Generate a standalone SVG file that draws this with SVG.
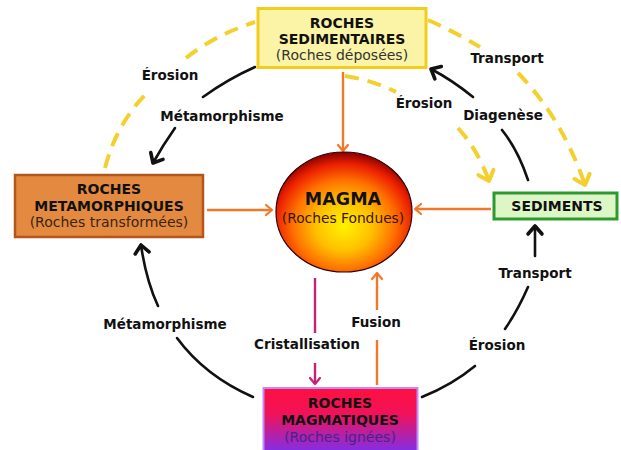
<svg xmlns="http://www.w3.org/2000/svg" width="621" height="450" viewBox="0 0 621 450">
<defs>
<style>
.t{font-family:"DejaVu Sans","Verdana",sans-serif;fill:#111;text-anchor:middle}
.b{font-weight:bold}
.lbl{font-family:"DejaVu Sans","Verdana",sans-serif;font-weight:bold;font-size:13.5px;fill:#111;text-anchor:middle}
.blk{fill:none;stroke:#111;stroke-width:2.6;stroke-linecap:round}
.yel{fill:none;stroke:#F4D02E;stroke-width:4;stroke-dasharray:14 9}
.org{fill:none;stroke:#F07828;stroke-width:2.4}
.mag{fill:none;stroke:#C8207A;stroke-width:2.4}
</style>
<marker id="mb" viewBox="-12 -10 16 20" markerWidth="16" markerHeight="20" refX="0" refY="0" orient="auto" markerUnits="userSpaceOnUse">
<path d="M-8,-7 L0,0 L-8,7" fill="none" stroke="#111" stroke-width="3.6" stroke-linecap="round" stroke-linejoin="round"/>
</marker>
<marker id="my" viewBox="-14 -12 18 24" markerWidth="18" markerHeight="24" refX="0" refY="0" orient="auto" markerUnits="userSpaceOnUse">
<path d="M-9,-8 L0,0 L-9,8" fill="none" stroke="#F4D02E" stroke-width="4" stroke-linecap="round" stroke-linejoin="round"/>
</marker>
<marker id="mo" viewBox="-10 -8 12 16" markerWidth="12" markerHeight="16" refX="0" refY="0" orient="auto" markerUnits="userSpaceOnUse">
<path d="M-6,-5 L0,0 L-6,5" fill="none" stroke="#F07828" stroke-width="2.2" stroke-linecap="round" stroke-linejoin="round"/>
</marker>
<marker id="mm" viewBox="-10 -8 12 16" markerWidth="12" markerHeight="16" refX="0" refY="0" orient="auto" markerUnits="userSpaceOnUse">
<path d="M-6,-5 L0,0 L-6,5" fill="none" stroke="#C8207A" stroke-width="2.2" stroke-linecap="round" stroke-linejoin="round"/>
</marker>
<radialGradient id="gMagma" cx="0.5" cy="0.6" r="0.6" fx="0.5" fy="0.62">
<stop offset="0" stop-color="#FFF200"/>
<stop offset="0.35" stop-color="#FFC000"/>
<stop offset="0.62" stop-color="#FF7200"/>
<stop offset="0.84" stop-color="#EC2000"/>
<stop offset="1" stop-color="#860000"/>
</radialGradient>
<linearGradient id="gIgn" x1="0" y1="0" x2="0" y2="1">
<stop offset="0" stop-color="#FF1040"/>
<stop offset="0.4" stop-color="#F0125A"/>
<stop offset="1" stop-color="#7A30F0"/>
</linearGradient>
</defs>
<rect width="621" height="450" fill="#FFFFFF"/>

<g id="connectors">
<path class="blk" d="M255,67 Q228,79 203,97"/>
<path class="blk" d="M175,128 Q163,145 153,163" marker-end="url(#mb)"/>
<path class="blk" d="M253,397 Q205,376 177,338"/>
<path class="blk" d="M158,306 Q146,280 141,245" marker-end="url(#mb)"/>
<path class="blk" d="M422,397 Q452,385 475,366"/>
<path class="blk" d="M505,329 Q518,310 528,287"/>
<path class="blk" d="M535,256 L535,226" marker-end="url(#mb)"/>
<path class="blk" d="M528,180 Q518,150 502,130"/>
<path class="blk" d="M473,97 Q452,80 431,69" marker-end="url(#mb)"/>
<path class="yel" d="M105,168 Q117,122 148,92"/>
<path class="yel" d="M186,58 Q215,35 255,22"/>
<path class="yel" d="M428,20 Q455,32 480,47"/>
<path class="yel" d="M518,73 Q562,118 585,185" marker-end="url(#my)"/>
<path class="yel" d="M345,76 Q372,80 396,92"/>
<path class="yel" d="M458,128 Q478,150 489,181" marker-end="url(#my)"/>
<path class="org" d="M343,72 L343,151" marker-end="url(#mo)"/>
<path class="org" d="M207,210 L272,210" marker-end="url(#mo)"/>
<path class="org" d="M491,209 L415,209" marker-end="url(#mo)"/>
<path class="org" d="M377,385 L377,340"/>
<path class="org" d="M377,310 L377,273" marker-end="url(#mo)"/>
<path class="mag" d="M315,278 L315,333"/>
<path class="mag" d="M315,363 L315,384" marker-end="url(#mm)"/>
<text class="lbl" x="170" y="80">Érosion</text>
<text class="lbl" x="222" y="121">Métamorphisme</text>
<text class="lbl" x="424" y="108">Érosion</text>
<text class="lbl" x="507" y="63">Transport</text>
<text class="lbl" x="503" y="120">Diagenèse</text>
<text class="lbl" x="535" y="278">Transport</text>
<text class="lbl" x="497" y="350">Érosion</text>
<text class="lbl" x="165" y="329">Métamorphisme</text>
<text class="lbl" x="307" y="349">Cristallisation</text>
<text class="lbl" x="376" y="327">Fusion</text>
</g>

<g id="sedimentaires">
<rect x="258" y="8.5" width="168" height="59" fill="#FBF3A6" stroke="#F2CE1C" stroke-width="3"/>
<text class="t b" x="342" y="28" font-size="14">ROCHES</text>
<text class="t b" x="342" y="44" font-size="14">SEDIMENTAIRES</text>
<text class="t" x="342" y="60" font-size="14" style="fill:#333">(Roches déposées)</text>
</g>

<g id="metamorphiques">
<rect x="15" y="175" width="188" height="62" fill="#E38A40" stroke="#B4561C" stroke-width="2.5"/>
<text class="t b" x="109" y="194" font-size="14">ROCHES</text>
<text class="t b" x="109" y="211" font-size="14">METAMORPHIQUES</text>
<text class="t" x="109" y="227" font-size="14" style="fill:#3a2410">(Roches transformées)</text>
</g>

<g id="magma">
<ellipse cx="344" cy="212" rx="68" ry="60" fill="url(#gMagma)" stroke="#2a0000" stroke-width="1.2"/>
<text class="t b" x="343" y="205" font-size="17.5">MAGMA</text>
<text class="t" x="343" y="223" font-size="13.8" style="fill:#3a1500">(Roches Fondues)</text>
</g>

<g id="sediments">
<rect x="494" y="193" width="123" height="26" fill="#DDF6C6" stroke="#2E9A2E" stroke-width="3"/>
<text class="t b" x="557" y="211" font-size="14">SEDIMENTS</text>
</g>

<g id="magmatiques">
<rect x="263.5" y="388" width="154" height="66" fill="url(#gIgn)" stroke="#C08AFF" stroke-width="2"/>
<text class="t b" x="340" y="408" font-size="14">ROCHES</text>
<text class="t b" x="340" y="425" font-size="14">MAGMATIQUES</text>
<text class="t" x="340" y="442" font-size="14" style="fill:#4a2288">(Roches ignées)</text>
</g>
</svg>
